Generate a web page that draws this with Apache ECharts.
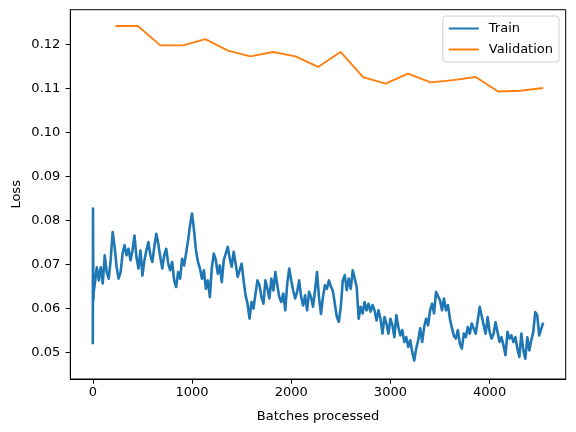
<!DOCTYPE html>
<html>
<head>
<meta charset="utf-8">
<script src="https://cdn.jsdelivr.net/npm/echarts@6/dist/echarts.min.js"></script>
<style>
html,body{margin:0;padding:0;background:#fff;}
#chart{width:576px;height:432px;}
</style>
</head>
<body>
<div id="chart"></div>
<script>
// First few batches (sharp spike at start)
const trainStartBatches = [0, 2, 5, 10];
const trainStartLoss = [0.0519, 0.0827, 0.0618, 0.0640];

// Train loss sampled every 20 batches, from batch 20 to 4540
const TRAIN_STEP = 20;
const trainLoss = [
0.0657,0.0694,0.0664,0.0694,0.0657,0.0721,0.0683,0.0668,0.0710,0.0774,
0.0740,0.0694,0.0668,0.0683,0.0725,0.0744,0.0721,0.0736,0.0710,0.0732,
0.0766,0.0717,0.0691,0.0732,0.0675,0.0710,0.0732,0.0751,0.0721,0.0706,
0.0740,0.0770,0.0747,0.0717,0.0691,0.0721,0.0736,0.0702,0.0687,0.0706,
0.0664,0.0649,0.0683,0.0668,0.0713,0.0698,0.0725,0.0755,0.0789,0.0816,
0.0778,0.0732,0.0706,0.0691,0.0668,0.0687,0.0645,0.0664,0.0626,0.0694,
0.0725,0.0710,0.0679,0.0698,0.0660,0.0710,0.0725,0.0740,0.0714,0.0695,
0.0729,0.0702,0.0672,0.0687,0.0702,0.0664,0.0630,0.0611,0.0577,0.0615,
0.0600,0.0634,0.0664,0.0653,0.0626,0.0611,0.0664,0.0645,0.0623,0.0668,
0.0641,0.0683,0.0653,0.0626,0.0615,0.0634,0.0596,0.0657,0.0691,0.0664,
0.0641,0.0623,0.0638,0.0664,0.0626,0.0607,0.0630,0.0596,0.0638,0.0626,
0.0604,0.0641,0.0683,0.0626,0.0588,0.0626,0.0653,0.0645,0.0664,0.0650,
0.0640,0.0642,0.0581,0.0570,0.0604,0.0664,0.0676,0.0642,0.0668,0.0645,
0.0687,0.0691,0.0649,0.0577,0.0604,0.0589,0.0615,0.0596,0.0611,0.0593,
0.0608,0.0596,0.0573,0.0596,0.0577,0.0543,0.0581,0.0566,0.0543,0.0577,
0.0562,0.0535,0.0585,0.0558,0.0539,0.0551,0.0524,0.0535,0.0513,0.0528,
0.0501,0.0482,0.0509,0.0528,0.0555,0.0524,0.0558,0.0577,0.0562,0.0596,
0.0611,0.0589,0.0638,0.0634,0.0619,0.0596,0.0623,0.0596,0.0608,0.0577,
0.0556,0.0538,0.0532,0.0551,0.0520,0.0509,0.0543,0.0535,0.0558,0.0543,
0.0566,0.0554,0.0543,0.0573,0.0604,0.0607,0.0562,0.0543,0.0581,0.0547,
0.0532,0.0543,0.0569,0.0547,0.0524,0.0535,0.0516,0.0494,0.0547,0.0532,
0.0539,0.0524,0.0535,0.0509,0.0490,0.0543,0.0505,0.0486,0.0535,0.0505,
0.0528,0.0547,0.0592,0.0585,0.0539,0.0554,0.0568
];

const valBatches = [227,454,681,908,1135,1362,1589,1816,2043,2270,2497,2724,2951,3178,3405,3632,3859,4086,4313,4540];
const valLoss = [0.1242,0.1242,0.1198,0.1198,0.1212,0.1186,0.1173,0.1183,0.1173,0.1149,0.1183,0.1126,0.1111,0.1134,0.1114,0.1119,0.1126,0.1093,0.1095,0.1101];

const xTicks = [0, 1000, 2000, 3000, 4000];
const yTicks = [0.05, 0.06, 0.07, 0.08, 0.09, 0.10, 0.11, 0.12];

const trainData = trainStartBatches.map((b, i) => [b, trainStartLoss[i]])
  .concat(trainLoss.map((v, i) => [(i + 1) * TRAIN_STEP, v]));
const valData = valBatches.map((b, i) => [b, valLoss[i]]);

const FONT = 'DejaVu Sans';
const chart = echarts.init(document.getElementById('chart'), null, {renderer: 'canvas'});
chart.setOption({
  animation: false,
  backgroundColor: '#fff',
  textStyle: {fontFamily: FONT},
  grid: {left: 70.3, right: 10.3, top: 9.7, bottom: 53, containLabel: false, outerBoundsMode: 'none',
         show: true, borderColor: '#000', borderWidth: 1, backgroundColor: 'transparent'},
  legend: {
    orient: 'vertical', right: 17, top: 16,
    padding: [6, 6, 6, 6], itemGap: 8, itemWidth: 30, itemHeight: 2,
    icon: 'rect',
    backgroundColor: 'rgba(255,255,255,0.8)', borderColor: '#d0d0d0', borderWidth: 1, borderRadius: 3,
    textStyle: {fontFamily: FONT, fontSize: 13, color: '#000', padding: [0, 0, 0, 5]},
    data: ['Train', 'Validation']
  },
  xAxis: {
    type: 'value', min: -227, max: 4767,
    name: 'Batches processed', nameLocation: 'middle', nameGap: 31, nameMoveOverlap: false,
    nameTextStyle: {fontFamily: FONT, fontSize: 13, color: '#000'},
    axisLine: {show: true, onZero: false, lineStyle: {color: '#000', width: 1}},
    axisTick: {show: true, length: 4.7, lineStyle: {color: '#000', width: 1}, customValues: xTicks},
    axisLabel: {fontFamily: FONT, fontSize: 13, color: '#000', margin: 7, customValues: xTicks,
                formatter: v => String(v)},
    splitLine: {show: false}
  },
  yAxis: {
    type: 'value', min: 0.0440, max: 0.1279,
    name: 'Loss', nameLocation: 'middle', nameGap: 47, nameRotate: 90, nameMoveOverlap: false,
    nameTextStyle: {fontFamily: FONT, fontSize: 13, color: '#000'},
    axisLine: {show: true, onZero: false, lineStyle: {color: '#000', width: 1}},
    axisTick: {show: true, length: 4.7, lineStyle: {color: '#000', width: 1}, customValues: yTicks},
    axisLabel: {fontFamily: FONT, fontSize: 13, color: '#000', margin: 10, customValues: yTicks,
                formatter: v => v.toFixed(2)},
    splitLine: {show: false}
  },
  series: [
    {name: 'Train', type: 'line', data: trainData, showSymbol: false, symbol: 'none',
     color: '#1f77b4', lineStyle: {color: '#1f77b4', width: 2.6, join: 'round'}, z: 2},
    {name: 'Validation', type: 'line', data: valData, showSymbol: false, symbol: 'none',
     color: '#ff7f0e', lineStyle: {color: '#ff7f0e', width: 1.9}, z: 3}
  ]
});
</script>
</body>
</html>
